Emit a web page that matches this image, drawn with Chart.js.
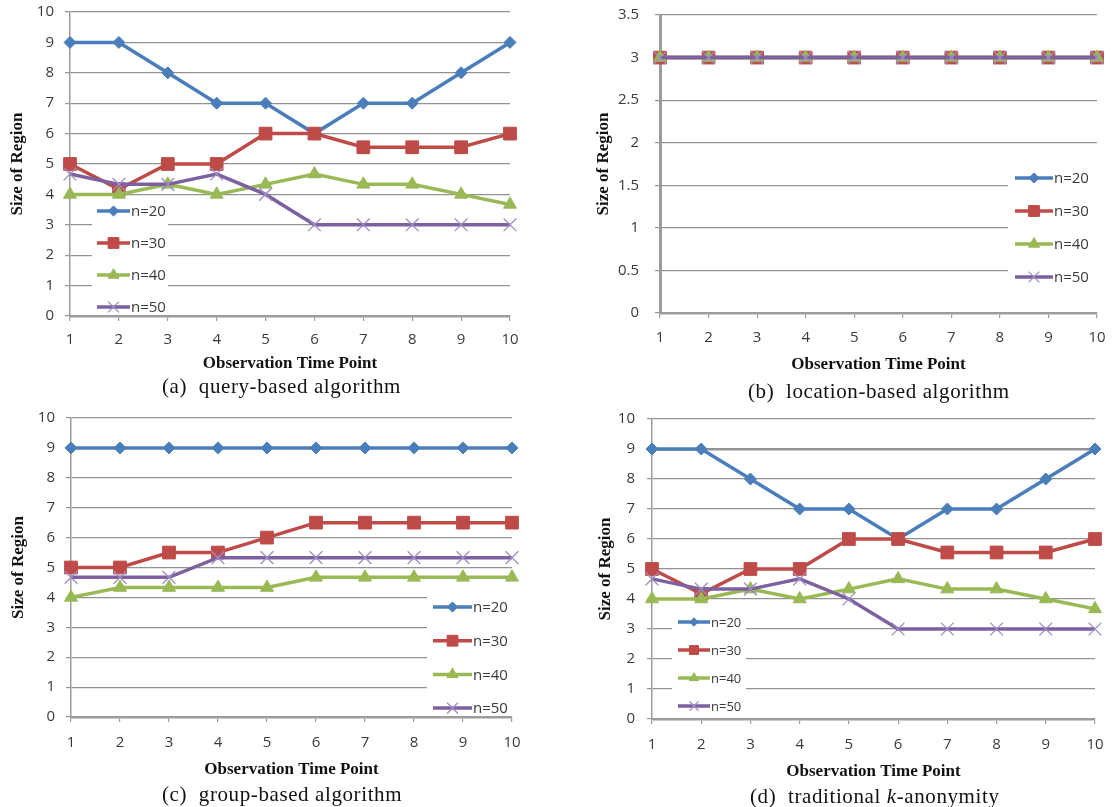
<!DOCTYPE html>
<html>
<head>
<meta charset="utf-8">
<script src="https://cdn.jsdelivr.net/npm/chart.js@4.4.1/dist/chart.umd.min.js"></script>
<style>
  html, body { margin: 0; padding: 0; background: #fff; }
  body { width: 1112px; height: 807px; position: relative; overflow: hidden; }
  .panel { position: absolute; }
  .panel canvas { display: block; }
  .caption {
    position: absolute;
    font-family: "Liberation Serif", "Times New Roman", serif;
    font-size: 21px;
    line-height: 22px;
    letter-spacing: 0.6px;
    color: #111;
    white-space: pre;
  }
</style>
</head>
<body>
<div class="panel" style="left:0;top:0;width:556px;height:400px"><canvas id="chartA" width="556" height="400"></canvas></div>
<div class="panel" style="left:556px;top:0;width:556px;height:400px"><canvas id="chartB" width="556" height="400"></canvas></div>
<div class="panel" style="left:0;top:400px;width:556px;height:407px"><canvas id="chartC" width="556" height="407"></canvas></div>
<div class="panel" style="left:556px;top:400px;width:556px;height:407px"><canvas id="chartD" width="556" height="407"></canvas></div>

<div class="caption" style="left:162px;top:375px">(a)  query-based algorithm</div>
<div class="caption" style="left:748px;top:380px">(b)  location-based algorithm</div>
<div class="caption" style="left:162px;top:783px">(c)  group-based algorithm</div>
<div class="caption" style="left:750px;top:785px">(d)  traditional <i>k</i>-anonymity</div>

<script>
// ---- data ----
const timePoints = ['1', '2', '3', '4', '5', '6', '7', '8', '9', '10'];
const seriesNames = ['n=20', 'n=30', 'n=40', 'n=50'];

const regionTicks = [0, 1, 2, 3, 4, 5, 6, 7, 8, 9, 10];
const locationTicks = [0, 0.5, 1, 1.5, 2, 2.5, 3, 3.5];

// (a) query-based algorithm
const queryN20 = [9, 9, 8, 7, 7, 6, 7, 7, 8, 9];
const queryN30 = [5, 4.17, 5, 5, 6, 6, 5.55, 5.55, 5.55, 6];
const queryN40 = [4, 4, 4.33, 4, 4.33, 4.67, 4.33, 4.33, 4, 3.67];
const queryN50 = [4.67, 4.33, 4.33, 4.67, 4, 3, 3, 3, 3, 3];

// (b) location-based algorithm
const locationN20 = [3, 3, 3, 3, 3, 3, 3, 3, 3, 3];
const locationN30 = [3, 3, 3, 3, 3, 3, 3, 3, 3, 3];
const locationN40 = [3, 3, 3, 3, 3, 3, 3, 3, 3, 3];
const locationN50 = [3, 3, 3, 3, 3, 3, 3, 3, 3, 3];

// (c) group-based algorithm
const groupN20 = [9, 9, 9, 9, 9, 9, 9, 9, 9, 9];
const groupN30 = [5, 5, 5.5, 5.5, 6, 6.5, 6.5, 6.5, 6.5, 6.5];
const groupN40 = [4, 4.33, 4.33, 4.33, 4.33, 4.67, 4.67, 4.67, 4.67, 4.67];
const groupN50 = [4.67, 4.67, 4.67, 5.33, 5.33, 5.33, 5.33, 5.33, 5.33, 5.33];

// (d) traditional k-anonymity
const kanonN20 = [9, 9, 8, 7, 7, 6, 7, 7, 8, 9];
const kanonN30 = [5, 4.17, 5, 5, 6, 6, 5.55, 5.55, 5.55, 6];
const kanonN40 = [4, 4, 4.33, 4, 4.33, 4.67, 4.33, 4.33, 4, 3.67];
const kanonN50 = [4.67, 4.33, 4.33, 4.67, 4, 3, 3, 3, 3, 3];

// ---- styles ----
const GRID_COLOR = '#929292';
const AXIS_COLOR = '#9c9c9c';
const TICK_COLOR = '#3a3a3a';
const SANS = '"Open Sans", "Noto Sans", sans-serif';
const TICK_FONT = { family: SANS, size: 15 };
const TITLE_FONT = { family: '"Liberation Serif", "Times New Roman", serif', size: 17, weight: 'bold', lineHeight: 1.2 };

const SERIES_STYLE = [
  { color: '#4a7ebb', marker: '#4a7ebb', pointStyle: 'rectRot', radius: 6, markerBorder: 1 },
  { color: '#be4b48', marker: '#be4b48', pointStyle: 'rect', radius: 9, markerBorder: 1 },
  { color: '#98b954', marker: '#98b954', pointStyle: 'triangle', radius: 7.5, markerBorder: 1 },
  { color: '#7d60a0', marker: '#a08cc4', pointStyle: 'crossRot', radius: 9, markerBorder: 1.3 }
];

function makeDatasets(seriesValues) {
  return seriesValues.map((values, i) => {
    const s = SERIES_STYLE[i];
    return {
      label: seriesNames[i],
      data: values,
      borderColor: s.color,
      backgroundColor: s.color,
      borderWidth: 3.5,
      pointStyle: s.pointStyle,
      pointRadius: s.radius,
      pointHoverRadius: s.radius,
      pointBackgroundColor: s.marker,
      pointBorderColor: s.marker,
      pointBorderWidth: s.markerBorder,
      tension: 0,
      clip: false,
      order: seriesValues.length - i   // later series drawn on top
    };
  });
}

// Legend drawn inside the plot area on a white patch
const insideLegend = {
  id: 'insideLegend',
  beforeDatasetsDraw(chart, args, opts) {
    const ctx = chart.ctx;
    ctx.save();
    ctx.fillStyle = '#ffffff';
    ctx.fillRect(opts.box[0], opts.box[1], opts.box[2] - opts.box[0], opts.box[3] - opts.box[1]);
    ctx.restore();
  },
  afterDatasetsDraw(chart, args, opts) {
    const ctx = chart.ctx;
    ctx.save();
    chart.data.datasets.forEach((ds, i) => {
      const y = opts.firstY + i * opts.gap;
      ctx.strokeStyle = ds.borderColor;
      ctx.lineWidth = ds.borderWidth;
      ctx.beginPath();
      ctx.moveTo(opts.lineFrom, y);
      ctx.lineTo(opts.lineTo, y);
      ctx.stroke();
      ctx.fillStyle = ds.pointBackgroundColor;
      ctx.strokeStyle = ds.pointBorderColor;
      ctx.lineWidth = ds.pointBorderWidth;
      Chart.helpers.drawPoint(ctx, {
        pointStyle: ds.pointStyle,
        radius: ds.pointRadius * opts.markerScale,
        rotation: 0,
        borderWidth: ds.pointBorderWidth
      }, (opts.lineFrom + opts.lineTo) / 2, y);
      ctx.fillStyle = TICK_COLOR;
      ctx.font = opts.fontSize + 'px ' + SANS;
      ctx.textAlign = 'left';
      ctx.textBaseline = 'middle';
      ctx.fillText(ds.label, opts.lineTo + 1, y + 1);
    });
    ctx.restore();
  }
};

function makeChart(canvasId, seriesValues, cfg) {
  const ticks = cfg.yTicks;
  return new Chart(document.getElementById(canvasId), {
    type: 'line',
    data: { labels: timePoints, datasets: makeDatasets(seriesValues) },
    plugins: [insideLegend],
    options: {
      responsive: false,
      animation: false,
      devicePixelRatio: 1,
      layout: { padding: cfg.padding },
      plugins: {
        legend: { display: false },
        tooltip: { enabled: false },
        insideLegend: cfg.legend
      },
      scales: {
        x: {
          type: 'category',
          offset: false,
          grid: { display: true, drawOnChartArea: false, drawTicks: true, tickLength: 5, color: AXIS_COLOR, lineWidth: 1.2 },
          border: { display: true, color: AXIS_COLOR, width: 2.5 },
          ticks: { padding: cfg.xTickPad, color: TICK_COLOR, font: TICK_FONT, maxRotation: 0, autoSkip: false },
          title: { display: true, text: 'Observation Time Point', color: '#111', font: TITLE_FONT, padding: { top: 0, bottom: 0 } },
          afterFit(scale) { scale.height = cfg.xHeight; scale.paddingLeft = 0; scale.paddingRight = 0; }
        },
        y: {
          min: ticks[0],
          max: ticks[ticks.length - 1],
          ticks: {
            stepSize: ticks[1] - ticks[0],
            padding: cfg.yTickPad,
            color: TICK_COLOR,
            font: TICK_FONT,
            callback: (value) => String(Math.round(value * 100) / 100)
          },
          grid: {
            color: GRID_COLOR,
            lineWidth: cfg.gridWidth || 1.2,
            drawTicks: true,
            tickLength: 5
          },
          border: { display: true, color: AXIS_COLOR, width: cfg.yAxisWidth },
          title: { display: true, text: 'Size of Region', color: '#111', font: TITLE_FONT, padding: { top: cfg.yTitlePad, bottom: 0 } },
          afterFit(scale) { scale.width = cfg.yWidth; scale.paddingTop = 0; scale.paddingBottom = 0; }
        }
      }
    }
  });
}

makeChart('chartA', [queryN20, queryN30, queryN40, queryN50], {
  yTicks: regionTicks,
  padding: { left: 0, top: 12, right: 46, bottom: 26 },
  yWidth: 70, xHeight: 58, xTickPad: 10, yTickPad: 11, yTitlePad: 7, yAxisWidth: 1.5,
  legend: { box: [92, 199, 168, 313], firstY: 211, gap: 32, lineFrom: 97, lineTo: 130, markerScale: 0.85, fontSize: 15 }
});

makeChart('chartB', [locationN20, locationN30, locationN40, locationN50], {
  yTicks: locationTicks,
  padding: { left: 30, top: 15, right: 15, bottom: 25 },
  yWidth: 74, xHeight: 62, xTickPad: 11, yTickPad: 16, yTitlePad: 7, yAxisWidth: 3,
  legend: { box: [452, 160, 541, 300], firstY: 178, gap: 33, lineFrom: 459, lineTo: 497, markerScale: 0.85, fontSize: 15 }
});

makeChart('chartC', [groupN20, groupN30, groupN40, groupN50], {
  yTicks: regionTicks,
  padding: { left: 0, top: 18, right: 44, bottom: 27 },
  yWidth: 71, xHeight: 63, xTickPad: 12, yTickPad: 11, yTitlePad: 8, yAxisWidth: 1.5,
  legend: { box: [427, 190, 512, 315], firstY: 207, gap: 33.7, lineFrom: 433, lineTo: 472, markerScale: 0.85, fontSize: 15 }
});

makeChart('chartD', [kanonN20, kanonN30, kanonN40, kanonN50], {
  yTicks: regionTicks,
  padding: { left: 32, top: 19, right: 17, bottom: 25 },
  yWidth: 64, xHeight: 63, xTickPad: 12, yTickPad: 12, yTitlePad: 7, yAxisWidth: 1.5,
  gridWidth: (ctx) => (ctx.tick && ctx.tick.value === 9 ? 2.5 : 1.2),
  legend: { box: [116, 211, 190, 317], firstY: 222, gap: 28, lineFrom: 122, lineTo: 154, markerScale: 0.7, fontSize: 13 }
});
</script>
</body>
</html>
